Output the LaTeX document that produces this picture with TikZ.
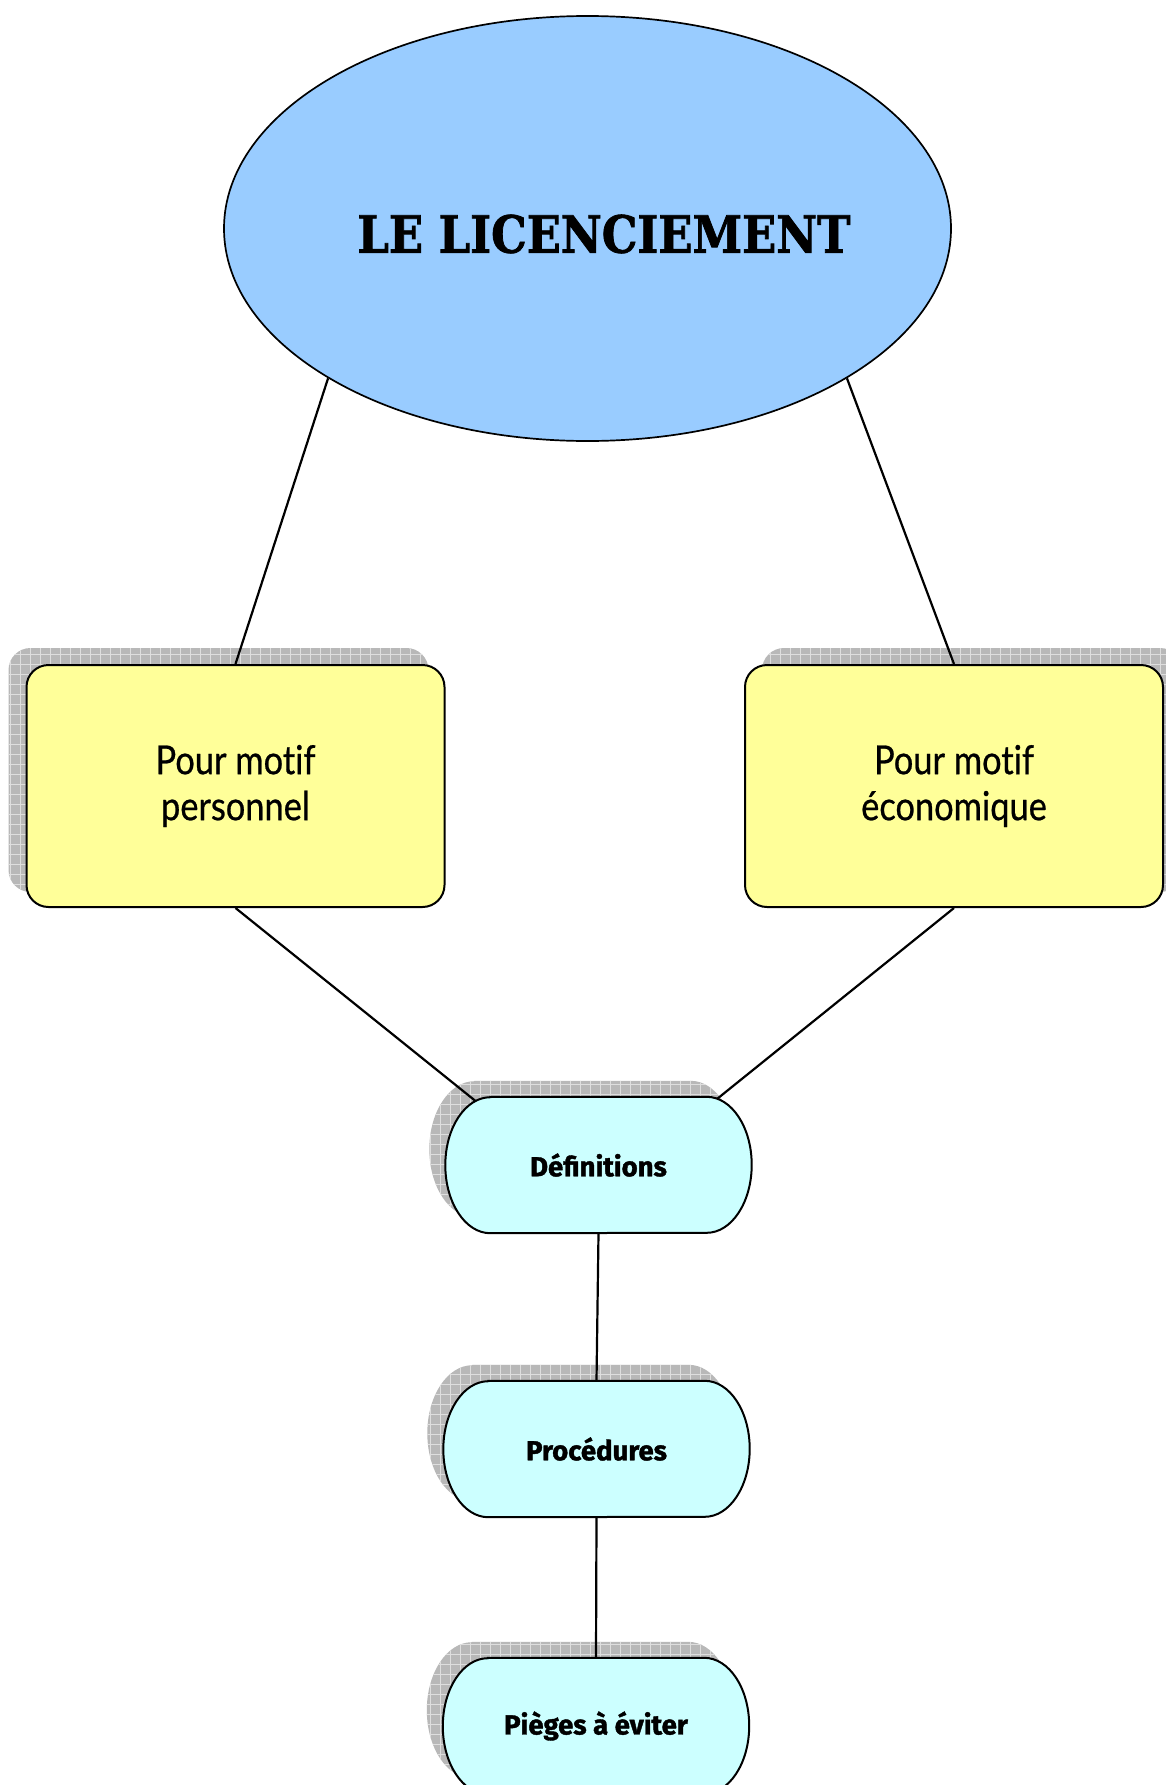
\documentclass[tikz,border=0pt]{standalone}
\usepackage{fontspec}
\usepackage{graphicx}
\usetikzlibrary{shapes.geometric,patterns}
\setmainfont{Lato}
\newfontfamily\titlefont[BoldFeatures={FakeBold=1.6}]{DejaVu Serif}
\newfontfamily\boxfont[FakeStretch=0.86, FakeBold=0.6, Ligatures=NoCommon]{Lato}
\newfontfamily\pillfont[BoldFeatures={FakeBold=1.4}]{Fira Sans}

\definecolor{skyblue}{HTML}{99CCFF}
\definecolor{paleyellow}{HTML}{FFFF99}
\definecolor{palecyan}{HTML}{CCFFFF}
\definecolor{shadowgray}{HTML}{B8B8B8}
\definecolor{gridgray}{HTML}{DEDEDE}

% square grid used inside the drop shadows
\pgfdeclarepatternformonly{gridten}{\pgfqpoint{-1pt}{-1pt}}{\pgfqpoint{11pt}{11pt}}{\pgfqpoint{10pt}{10pt}}{%
  \pgfsetlinewidth{1pt}%
  \pgfpathmoveto{\pgfqpoint{0pt}{0pt}}\pgfpathlineto{\pgfqpoint{10pt}{0pt}}%
  \pgfpathmoveto{\pgfqpoint{0pt}{0pt}}\pgfpathlineto{\pgfqpoint{0pt}{10pt}}%
  \pgfusepath{stroke}}

\pgfdeclarelayer{bg}
\pgfsetlayers{bg,main}

\tikzset{
  outline/.style={draw=black, line width=2pt},
  link/.style={draw=black, line width=2.2pt},
  shadefill/.style={fill=shadowgray, postaction={pattern=gridten, pattern color=gridgray}},
  titleoval/.style={ellipse, draw=black, line width=1.7pt, fill=skyblue, minimum width=727pt, minimum height=425pt, inner sep=0pt},
  ybox/.style={outline, fill=paleyellow, rounded corners=22pt, minimum width=418pt,
    minimum height=242pt, align=center, inner sep=0pt,
    font=\boxfont\fontsize{40}{46}\selectfont},
  pillspot/.style={minimum width=306pt, minimum height=136pt, inner sep=0pt,
    font=\pillfont\bfseries\fontsize{27.5}{32}\selectfont},
}

% outline of a pill with elliptic ends around node #1, moved by (#2,#3)
\newcommand\pillpath[3]{([shift={(#2+45,#3)}]#1.north west) -- ([shift={(#2-45,#3)}]#1.north east)
  arc[start angle=-90, end angle=90, x radius=45, y radius=68]
  -- ([shift={(#2+45,#3)}]#1.south west)
  arc[start angle=90, end angle=270, x radius=45, y radius=68] -- cycle}

\begin{document}
\begin{tikzpicture}[x=1pt, y=-1pt]
  \useasboundingbox (0,0) rectangle (1166,1785);
  \clip (0,0) rectangle (1166,1785);

  % main oval and its title
  \node[titleoval] (lic) at (587.5,228.5) {};
  \node (ttl) at (604,234) {\resizebox{493pt}{38pt}{\titlefont\bfseries LE LICENCIEMENT}};

  % the two kinds of dismissal
  \node[ybox] (pl) at (235.5,786) {Pour motif\\personnel};
  \node[ybox] (pe) at (954,786) {Pour motif\\économique};

  % text holders for the three topics
  \node[pillspot] (d) at (598.5,1165) {};
  \node[pillspot] (p) at (596.5,1449) {};
  \node[pillspot] (q) at (596,1726) {};

  \begin{pgfonlayer}{bg}
    \path[shadefill, rounded corners=22pt] ([shift={(-17,-16)}]pl.north west) rectangle ([shift={(-17,-16)}]pl.south east);
    \path[shadefill, rounded corners=22pt] ([shift={(18,-16)}]pe.north west) rectangle ([shift={(18,-16)}]pe.south east);
    \path[shadefill] \pillpath{d}{-16}{-16};
    \path[shadefill] \pillpath{p}{-16}{-16};
    \path[shadefill] \pillpath{q}{-16}{-16};
  \end{pgfonlayer}

  \path[outline, fill=palecyan] \pillpath{d}{0}{0};
  \path[outline, fill=palecyan] \pillpath{p}{0}{0};
  \path[outline, fill=palecyan] \pillpath{q}{0}{0};

  \node[pillspot] at (d) {Définitions};
  \node[pillspot] at (p) {Procédures};
  \node[pillspot] at (q) {Pièges à éviter};

  % points where the links meet the curved ends
  \coordinate (dl) at ([shift={(30,4)}]d.north west);
  \coordinate (dr) at ([shift={(-34.5,2)}]d.north east);

  % links
  \draw[link] (lic.210) -- (pl.north);
  \draw[link] (lic.330) -- (pe.north);
  \draw[link] (pl.south) -- (dl);
  \draw[link] (pe.south) -- (dr);
  \draw[link] (d.south) -- (p.north);
  \draw[link] (p.south) -- (q.north);
\end{tikzpicture}
\end{document}
